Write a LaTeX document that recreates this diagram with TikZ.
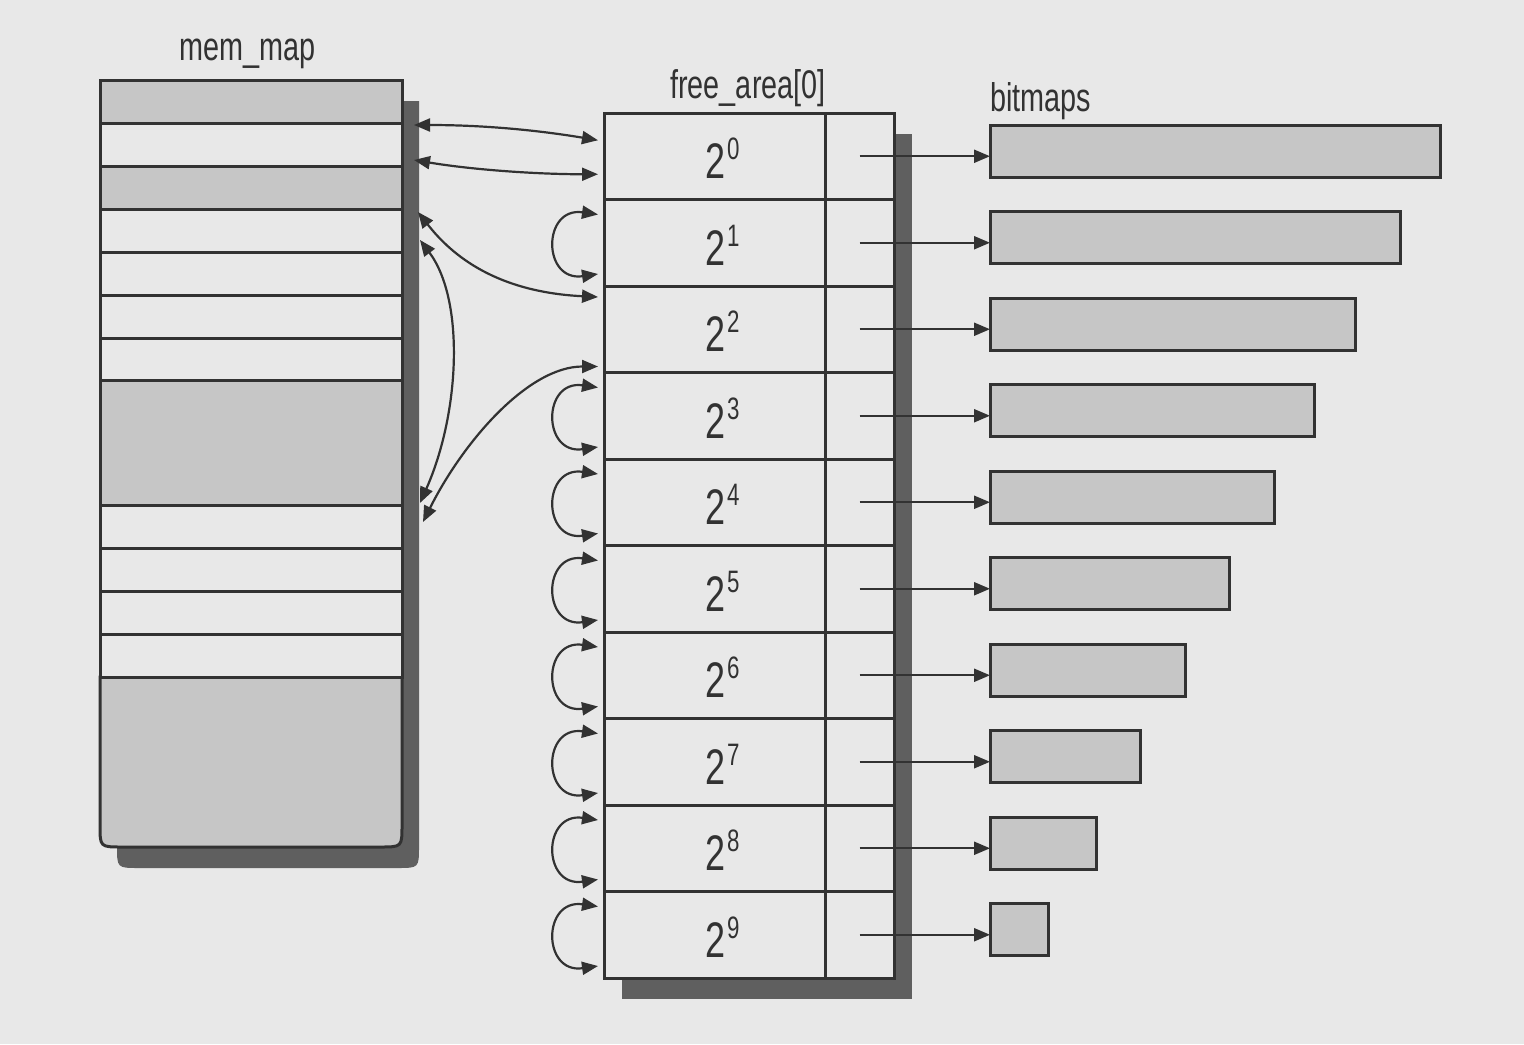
\documentclass[tikz,border=0pt]{standalone}
\usepackage{fontspec}
\newfontfamily\cond[FakeStretch=0.72]{Liberation Sans}
\usetikzlibrary{arrows.meta,fit,calc}
\definecolor{bg}{RGB}{232,232,232}
\definecolor{ink}{RGB}{50,50,50}
\definecolor{shade}{RGB}{198,198,198}
\definecolor{shadowc}{RGB}{95,95,95}
\begin{document}
\begin{tikzpicture}[x=0.5pt,y=-0.5pt,
  >={Triangle[length=8pt,width=6.5pt]},
  box/.style={draw=ink,line width=1.5pt,inner sep=0pt,outer sep=0pt},
  shaded/.style={box,fill=shade},
  plain/.style={box,fill=bg},
  link/.style={draw=ink,line width=1.1pt},
  title/.style={font=\cond\fontsize{20pt}{24pt}\selectfont,text=ink,inner sep=0pt},
  exps/.style={font=\cond\fontsize{25pt}{30pt}\selectfont,text=ink,inner sep=0pt}]
\fill[bg] (0,0) rectangle (1524,1044);
\useasboundingbox (0,0) rectangle (1524,1044);
% shadows
\fill[shadowc] (117,101) -- (419,101) -- (419,846) .. controls (419,868) .. (397,868) -- (139,868) .. controls (117,868) .. (117,846) -- cycle;
\fill[shadowc] (622,134) rectangle (912,999);
% mem_map
\fill[bg] (100,80) rectangle (402,677);
\draw[draw=ink,line width=1.5pt,fill=shade] (100,677) -- (402,677) -- (402,825) .. controls (402,847) .. (380,847) -- (122,847) .. controls (100,847) .. (100,825) -- cycle;
\foreach \n/\a/\b/\sty in {0/80/123/shaded,1/123/166/plain,2/166/209/shaded,3/209/252/plain,4/252/295/plain,5/295/338/plain,6/338/380/plain,7/380/505/shaded,8/505/548/plain,9/548/591/plain,10/591/634/plain,11/634/677/plain}
  \node[\sty, fit={(100,\a)(402,\b)}] (m\n) {};
% free_area
\foreach \i in {0,...,9} {
  \pgfmathsetmacro\tp{113+86.5*\i}
  \pgfmathsetmacro\bt{\tp+86.5}
  \node[plain, fit={(604,\tp)(825,\bt)}] (fa\i) {};
  \node[plain, fit={(825,\tp)(894,\bt)}] (fp\i) {};
  \node[exps, anchor=base] (e\i) at ($(fa\i.center)+(8,22.5)$) {2\raisebox{9.5pt}{\fontsize{15.5pt}{16pt}\selectfont\kern0.8pt\i}};
}
% bitmaps
\foreach \i/\r in {0/1440,1/1400,2/1355,3/1314,4/1274,5/1229,6/1185,7/1140,8/1096,9/1048} {
  \pgfmathsetmacro\tp{125+86.5*\i}
  \pgfmathsetmacro\bt{\tp+52}
  \node[shaded, fit={(990,\tp)(\r,\bt)}] (bm\i) {};
  \draw[link,->] (fp\i.center) -- (bm\i.west |- fp\i.center);
}
% loops
\foreach \i in {1,3,4,5,6,7,8,9}
  \draw[link,<->] ($(fa\i.north west)+(-6,15)$) .. controls +(-56,-8) and +(-56,8) .. ($(fa\i.south west)+(-6,-12)$);
% mem_map <-> free_area links
\draw[link,<->] ($(m1.north east)+(12,2)$) .. controls +(70,0) and +(-60,-10) .. ($(fa0.west)+(-6,-16)$);
\draw[link,<->] ($(m1.south east)+(12,-6)$) .. controls +(60,10) and +(-60,0) .. ($(fa0.west)+(-6,18)$);
\draw[link,<->] ($(m3.north east)+(16,3)$) .. controls +(35,45) and +(-100,-5) .. ($(fa2.north west)+(-6,11)$);
\draw[link,<->] ($(m3.north east)+(18,31)$) .. controls +(45,60) and +(40,-90) .. ($(m8.north east)+(18,-2)$);
\draw[link,<->] ($(fa2.south west)+(-6,-6)$) .. controls +(-70,0) and +(40,-80) .. ($(m8.north east)+(21,17)$);
% labels
\node[title, anchor=base] (lmem) at (248,60) {mem\_map};
\node[title, anchor=base] (lfree) at (748,98) {free\_area[0]};
\node[title, anchor=base west] (lbit) at (990,111) {bitmaps};
\end{tikzpicture}
\end{document}
